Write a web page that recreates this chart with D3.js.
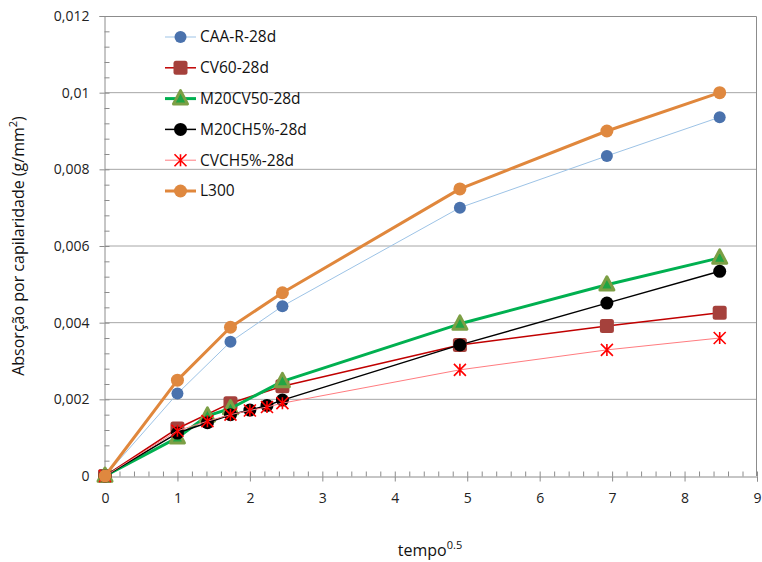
<!DOCTYPE html>
<html>
<head>
<meta charset="utf-8">
<script src="https://cdn.jsdelivr.net/npm/d3@7"></script>
<style>
  html, body { margin: 0; padding: 0; background: #fff; }
  svg { display: block; font-family: "Open Sans", "Liberation Sans", sans-serif; }
</style>
</head>
<body>
<div id="chart"></div>
<script>
// time^0.5 positions used by the series
const tAll = [0, 1, 1.414, 1.732, 2, 2.236, 2.449, 4.899, 6.928, 8.485];
const tMain = [0, 1, 1.732, 2.449, 4.899, 6.928, 8.485];
const tGreen = [0, 1, 1.414, 1.732, 2.449, 4.899, 6.928, 8.485];

const caaR = [0, 0.00215, 0.0035, 0.00443, 0.007, 0.00835, 0.00936];
const cv60 = [0, 0.00124, 0.0019, 0.00234, 0.00342, 0.00391, 0.00426];
const m20cv50 = [0, 0.001, 0.00157, 0.00176, 0.00247, 0.00397, 0.00499, 0.00569];
const m20ch5 = [0, 0.00112, 0.00139, 0.0016, 0.00172, 0.00184, 0.00198, 0.00342, 0.00451, 0.00534];
const cvch5 = [0, 0.00118, 0.00143, 0.0016, 0.00171, 0.0018, 0.0019, 0.00277, 0.00329, 0.0036];
const l300 = [0, 0.0025, 0.00388, 0.00478, 0.00749, 0.009, 0.01];

const seriesNames = ["CAA-R-28d", "CV60-28d", "M20CV50-28d", "M20CH5%-28d", "CVCH5%-28d", "L300"];
const xTicks = [0, 1, 2, 3, 4, 5, 6, 7, 8, 9];
const yTicks = [0, 0.002, 0.004, 0.006, 0.008, 0.01, 0.012];

const WIDTH = 762, HEIGHT = 562;
const MARGIN = { top: 16, right: 5, bottom: 86, left: 105 };

const series = [
  { name: seriesNames[0], t: tMain, v: caaR, line: "#9dc3e6", lw: 1, marker: "circle", fill: "#4a72ad", stroke: "none", size: 6 },
  { name: seriesNames[1], t: tMain, v: cv60, line: "#c00000", lw: 1.5, marker: "square", fill: "#a5413c", stroke: "none", size: 7 },
  { name: seriesNames[2], t: tGreen, v: m20cv50, line: "#00b050", lw: 3, marker: "triangle", fill: "#21a544", stroke: "#7c9f45", size: 7 },
  { name: seriesNames[3], t: tAll, v: m20ch5, line: "#000000", lw: 1.5, marker: "circle", fill: "#000000", stroke: "none", size: 6.5 },
  { name: seriesNames[4], t: tAll, v: cvch5, line: "#ff7c80", lw: 1, marker: "star", fill: "none", stroke: "#ff0000", size: 6 },
  { name: seriesNames[5], t: tMain, v: l300, line: "#e0873c", lw: 3, marker: "circle", fill: "#df883f", stroke: "none", size: 6.5 }
];

function drawMarker(g, s, cx, cy) {
  const r = s.size;
  if (s.marker === "circle") {
    g.append("circle").attr("cx", cx).attr("cy", cy).attr("r", r)
      .attr("fill", s.fill);
  } else if (s.marker === "square") {
    g.append("rect").attr("x", cx - r).attr("y", cy - r)
      .attr("width", 2 * r).attr("height", 2 * r).attr("rx", 2.5)
      .attr("fill", s.fill);
  } else if (s.marker === "triangle") {
    const h = r * 1.9;
    g.append("path")
      .attr("d", `M${cx},${cy - h * 0.6}L${cx + r},${cy + h * 0.4}L${cx - r},${cy + h * 0.4}Z`)
      .attr("fill", s.fill).attr("stroke", s.stroke).attr("stroke-width", 3)
      .attr("stroke-linejoin", "round");
  } else if (s.marker === "star") {
    g.append("path")
      .attr("d", `M${cx},${cy - r}V${cy + r}M${cx - r},${cy - r}L${cx + r},${cy + r}M${cx + r},${cy - r}L${cx - r},${cy + r}`)
      .attr("stroke", s.stroke).attr("stroke-width", 1.6).attr("fill", "none");
  }
}

const svg = d3.select("#chart").append("svg")
  .attr("width", WIDTH).attr("height", HEIGHT);

const x = d3.scaleLinear().domain([0, 9]).range([MARGIN.left, WIDTH - MARGIN.right]);
const y = d3.scaleLinear().domain([0, 0.012]).range([HEIGHT - MARGIN.bottom, MARGIN.top]);

// gridlines
svg.append("g")
  .selectAll("line")
  .data(yTicks.filter(d => d > 0 && d < 0.012))
  .join("line")
  .attr("x1", x(0)).attr("x2", x(9))
  .attr("y1", d => y(d)).attr("y2", d => y(d))
  .attr("stroke", "#a6a6a6").attr("stroke-width", 1);

// plot frame (top + right)
svg.append("path")
  .attr("d", `M${x(0)},${y(0.012) + 0.5}H${x(9) - 0.5}V${y(0)}`)
  .attr("fill", "none").attr("stroke", "#8c8c8c").attr("stroke-width", 1);

// y axis: major ticks outside, minor inside
const yAxis = svg.append("g").attr("transform", `translate(${x(0) - 0.5},0)`);
yAxis.call(d3.axisLeft(y).tickValues(yTicks).tickSize(5).tickPadding(10)
  .tickFormat(d => d === 0 ? "0" : d3.format(".3~f")(d).replace(".", ",")));
yAxis.append("g").call(d3.axisRight(y).tickValues(d3.range(0, 0.0121, 0.0004)).tickSize(5).tickFormat(""))
  .select(".domain").remove();

// x axis
const xAxis = svg.append("g").attr("transform", `translate(0,${y(0) + 0.5})`);
xAxis.call(d3.axisBottom(x).tickValues(xTicks).tickSize(5).tickPadding(12).tickFormat(d3.format("d")));
xAxis.append("g").call(d3.axisTop(x).tickValues(d3.range(0, 9.01, 0.2)).tickSize(5).tickFormat(""))
  .select(".domain").remove();

svg.selectAll(".domain, .tick line").attr("stroke", "#8c8c8c");
svg.selectAll(".tick text").attr("font-size", 14).attr("fill", "#222")
  .attr("font-family", "'Open Sans', sans-serif");

// series
series.forEach(s => {
  const g = svg.append("g");
  const pts = s.t.map((t, i) => [t, s.v[i]]);
  g.append("path")
    .attr("d", d3.line().x(d => x(d[0])).y(d => y(d[1]))(pts))
    .attr("fill", "none").attr("stroke", s.line).attr("stroke-width", s.lw)
    .attr("stroke-linejoin", "round");
  pts.forEach(d => drawMarker(g, s, x(d[0]), y(d[1])));
});

// legend
const legend = svg.append("g").attr("transform", "translate(165,37)");
series.forEach((s, i) => {
  const g = legend.append("g").attr("transform", `translate(0,${i * 30.8})`);
  g.append("line").attr("x1", 0).attr("x2", 31).attr("y1", 0).attr("y2", 0)
    .attr("stroke", s.line).attr("stroke-width", s.lw);
  drawMarker(g, s, 15.5, 0);
  g.append("text").attr("x", 35).attr("y", 0).attr("dy", "0.35em")
    .attr("font-size", 15.5).attr("fill", "#111").text(s.name);
});

// axis titles
const yTitle = svg.append("text")
  .attr("transform", `translate(24,${(y(0) + y(0.012)) / 2}) rotate(-90)`)
  .attr("text-anchor", "middle").attr("font-size", 16).attr("fill", "#111");
yTitle.append("tspan").text("Absorção por capilaridade (g/mm");
yTitle.append("tspan").attr("baseline-shift", "super").attr("font-size", 11).text("2");
yTitle.append("tspan").text(")");

const xTitle = svg.append("text")
  .attr("x", 430).attr("y", 556)
  .attr("text-anchor", "middle").attr("font-size", 16).attr("fill", "#111");
xTitle.append("tspan").text("tempo");
xTitle.append("tspan").attr("baseline-shift", "super").attr("font-size", 11).text("0.5");
</script>
</body>
</html>
